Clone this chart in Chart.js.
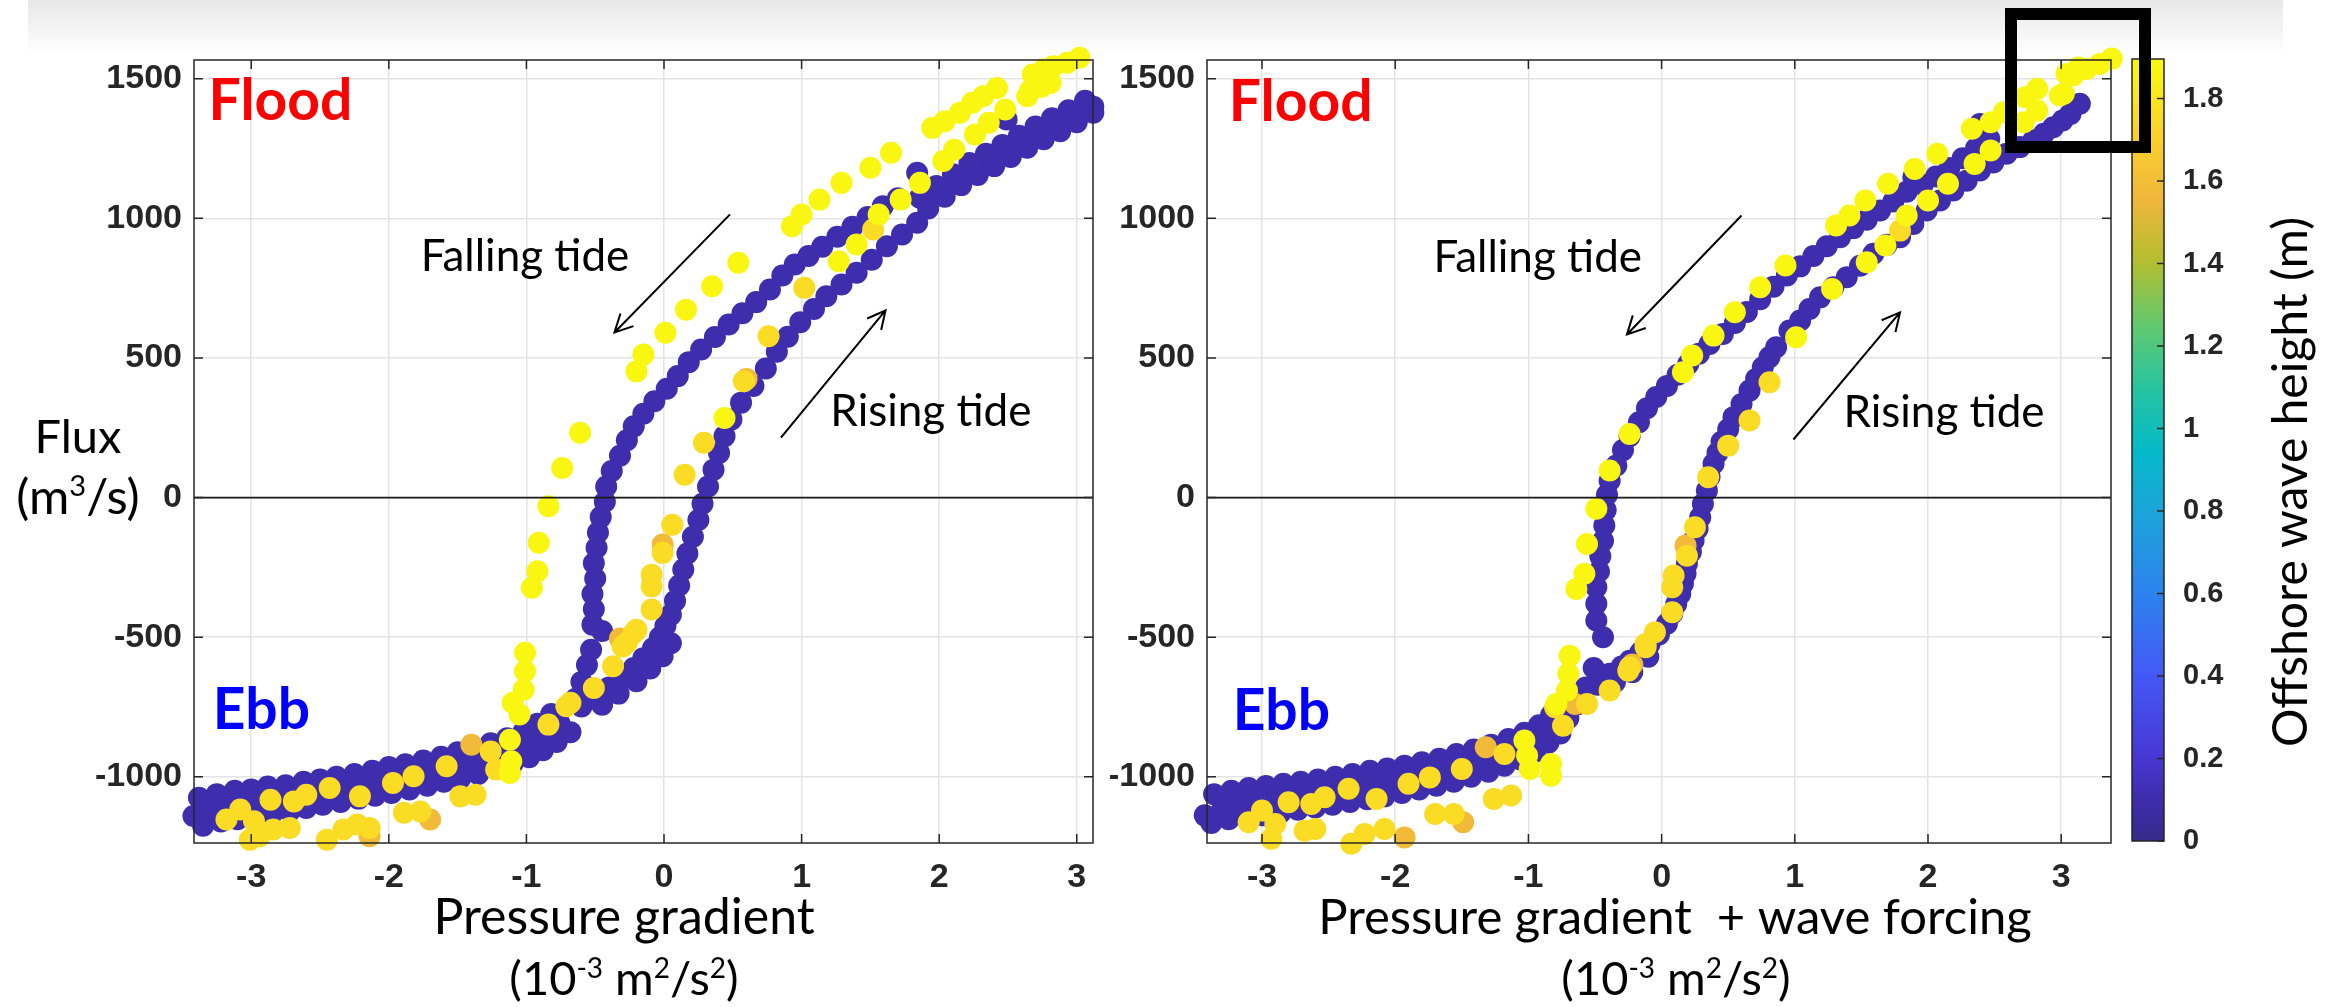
<!DOCTYPE html>
<html>
<head>
<meta charset="utf-8">
<script src="https://cdn.jsdelivr.net/npm/chart.js@4.4.1/dist/chart.umd.min.js"></script>
<style>
  html, body { margin: 0; padding: 0; background: #fff; }
  body { width: 2343px; height: 1007px; position: relative; overflow: hidden; }
  .band { position: absolute; left: 28px; top: 0; width: 2255px; height: 54px;
          background: linear-gradient(to bottom, #e8e8e8, #f4f4f4 55%, #ffffff); }
  canvas { position: absolute; top: 0; }
  #left { left: 0; }
  #right { left: 1110px; }
  #cbar { left: 2120px; }
  .box { position: absolute; left: 2005px; top: 8px; width: 122px; height: 121px;
         border: 12px solid #000; z-index: 5; }
</style>
</head>
<body>
<div class="band"></div>
<canvas id="left" width="1110" height="1007"></canvas>
<canvas id="right" width="1233" height="1007"></canvas>
<canvas id="cbar" width="223" height="1007"></canvas>
<div class="box"></div>
<script>
// offshore wave height (m) of each point group
const HS_CALM = 0.1
const HS_ORANGE = 1.58
const HS_GOLD = 1.76
const HS_YELLOW = 1.88
const HS_MAX = 1.896

const yTicks = [-1000, -500, 0, 500, 1000, 1500]
const xTicks = [-3, -2, -1, 0, 1, 2, 3]
const cbarTicks = [0, 0.2, 0.4, 0.6, 0.8, 1, 1.2, 1.4, 1.6, 1.8]

// ---- left panel: pressure gradient vs flux ----
const leftCalmBand = [
  [-3.38,-1075],[-3.25,-1062],[-3.12,-1050],[-3.0,-1045],[-2.88,-1035],[-2.75,-1030],[-2.62,-1018],
  [-2.5,-1010],[-2.38,-1000],[-2.25,-990],[-2.12,-978],[-2.0,-965],[-1.88,-955],[-1.75,-942],
  [-1.62,-928],[-1.5,-912],[-1.38,-898],[-1.26,-880],[-1.14,-862],[-1.02,-838],[-0.92,-810],[-0.82,-775],
  [-3.42,-1140],[-3.3,-1125],[-3.18,-1112],[-3.05,-1102],[-2.92,-1090],[-2.8,-1082],[-2.68,-1072],
  [-2.55,-1062],[-2.42,-1052],[-2.3,-1042],[-2.18,-1030],[-2.05,-1018],[-1.92,-1005],[-1.8,-995],
  [-1.68,-982],[-1.55,-968],[-1.42,-952],[-1.3,-936],[-1.18,-918],[-1.06,-896],[-0.95,-872],
  [-0.85,-842],[-0.76,-808],
  [-3.35,-1175],[-3.22,-1160],[-3.1,-1152],[-2.98,-1142],[-2.85,-1132],[-2.72,-1122],[-2.6,-1112],
  [-2.48,-1100],[-2.35,-1090],[-2.22,-1078],[-2.1,-1068],[-1.98,-1058],[-1.85,-1045],[-1.72,-1032],
  [-1.6,-1018],[-1.48,-1005],[-1.35,-990],[-1.22,-972],[-1.1,-952],[-0.98,-930],[-0.88,-905],
  [-0.78,-875],[-0.68,-840],
]
const leftCalmFalling = [
  [-0.64,-720],[-0.60,-660],[-0.56,-600],[-0.53,-545],[-0.45,-478],[-0.52,-455],[-0.51,-400],
  [-0.52,-345],[-0.50,-290],[-0.51,-235],[-0.49,-180],[-0.48,-125],[-0.46,-70],[-0.43,-15],
  [-0.42,40],[-0.38,95],[-0.32,150],[-0.27,205],[-0.22,255],[-0.15,300],[-0.07,345],[0.02,390],
  [0.10,435],[0.18,485],[0.27,530],[0.37,575],[0.47,620],[0.57,660],[0.67,700],[0.77,745],
  [0.86,795],[0.95,835],[1.05,865],[1.15,898],[1.26,934],[1.37,970],[1.48,1005],[1.59,1043],
  [1.70,1072],[1.84,1163],[2.49,1354],
]
const leftCalmRising = [
  [-0.60,-748],[-0.50,-715],[-0.40,-680],[-0.30,-645],[-0.22,-610],[-0.15,-575],[-0.08,-540],
  [-0.03,-500],[0.01,-460],[0.05,-420],[0.08,-370],[0.11,-315],[0.14,-258],[0.17,-200],[0.21,-140],
  [0.25,-80],[0.28,-22],[0.32,40],[0.36,100],[0.40,160],[0.44,220],[0.49,280],[0.56,340],[0.65,400],
  [0.74,462],[0.82,522],[0.90,576],[0.99,628],[1.09,675],[1.18,721],[1.29,763],[1.40,805],
  [1.51,852],[1.62,900],[1.73,942],[1.84,984],
  [-0.45,-742],[-0.33,-702],[-0.20,-658],[-0.10,-612],[-0.01,-568],[0.05,-522],
]
const leftCalmUpper = [
  [1.86,1074],[1.98,1116],[2.10,1158],[2.22,1198],[2.34,1231],[2.46,1263],[2.58,1296],[2.70,1329],
  [2.82,1358],[2.94,1387],[3.06,1421],
  [1.92,1055],[2.04,1097],[2.16,1138],[2.28,1177],[2.40,1209],[2.52,1241],[2.64,1274],[2.76,1306],
  [2.88,1335],[3.00,1366],[3.12,1400],
  [1.92,1035],[2.04,1077],[2.16,1119],[2.28,1155],[2.40,1187],[2.52,1220],[2.64,1253],[2.76,1283],
  [2.88,1312],[3.00,1344],[3.12,1378],
]
const leftYellow = [
  [-0.20,452],[-0.15,512],[0.01,590],[0.16,673],[0.35,757],[0.54,841],[0.93,972],[1.00,1014],
  [1.13,1067],[1.29,1127],[1.50,1181],[1.65,1235],[1.95,1324],[2.04,1348],[2.15,1378],[2.24,1414],
  [2.32,1437],[2.42,1467],[2.64,1437],[2.66,1458],[2.68,1515],[2.76,1533],[2.83,1545],[2.93,1557],
  [3.02,1575],[2.81,1485],[2.74,1470],
  [-0.61,232],[-0.74,106],[-0.84,-31],[-0.91,-162],[-0.92,-264],[-0.96,-323],[-1.01,-556],
  [-1.01,-622],[-1.02,-688],[-1.10,-735],[-1.05,-777],[-1.12,-867],[-1.12,-986],[-1.11,-944],
  [0.44,285],[1.27,846],[1.40,906],[1.56,1014],[1.72,1067],[1.86,1127],[2.03,1205],[2.11,1246],
  [2.26,1300],[2.36,1342],[2.48,1390],
]
const leftGold = [
  [0.76,578],[0.58,417],[0.29,196],[1.02,751],[1.52,960],
  [0.15,82],[0.06,-97],[-0.01,-198],[-0.09,-276],[-0.09,-318],[-0.09,-401],[-0.20,-473],
  [-0.27,-520],[-0.37,-604],[-0.51,-682],[-0.68,-735],[-0.71,-747],[-0.84,-813],[-0.30,-533],
  [-0.22,-485],
  [-1.26,-909],[-1.22,-974],[-1.58,-962],[-1.82,-998],[-1.97,-1022],[-2.21,-1070],[-2.43,-1040],
  [-2.60,-1064],[-2.69,-1088],[-2.86,-1082],[-3.08,-1117],[-3.18,-1153],[-2.98,-1159],[-2.94,-1213],
  [-3.01,-1225],[-2.72,-1183],[-2.84,-1189],[-2.45,-1225],[-2.33,-1189],[-2.23,-1171],[-2.14,-1183],
  [-1.89,-1129],[-1.77,-1124],[-1.48,-1070],[-1.37,-1064],
]
const leftOrange = [
  [-0.01,-168],[-0.32,-505],[-1.40,-885],[-2.14,-1213],[-1.70,-1153],[0.60,425],
]

// ---- right panel: pressure gradient + wave forcing vs flux ----
const rightCalmBand = [
  [-3.36,-1062],[-3.23,-1050],[-3.1,-1040],[-2.97,-1033],[-2.84,-1025],[-2.71,-1018],[-2.58,-1010],
  [-2.45,-1000],[-2.32,-990],[-2.19,-978],[-2.06,-970],[-1.93,-960],[-1.8,-948],[-1.67,-935],
  [-1.54,-918],[-1.41,-902],[-1.28,-885],[-1.15,-865],[-1.03,-842],[-0.92,-815],[-0.83,-780],
  [-3.43,-1138],[-3.3,-1118],[-3.17,-1105],[-3.04,-1098],[-2.9,-1088],[-2.77,-1079],[-2.64,-1070],
  [-2.51,-1060],[-2.38,-1050],[-2.25,-1040],[-2.12,-1030],[-1.99,-1018],[-1.86,-1005],[-1.73,-992],
  [-1.6,-978],[-1.47,-960],[-1.34,-942],[-1.21,-922],[-1.09,-900],[-0.97,-872],[-0.87,-840],[-0.78,-800],
  [-3.38,-1165],[-3.25,-1152],[-3.12,-1145],[-2.99,-1138],[-2.86,-1128],[-2.73,-1118],[-2.6,-1110],
  [-2.47,-1100],[-2.34,-1090],[-2.21,-1080],[-2.08,-1070],[-1.95,-1058],[-1.82,-1045],[-1.69,-1032],
  [-1.56,-1018],[-1.43,-1000],[-1.3,-982],[-1.18,-960],[-1.06,-938],[-0.95,-910],[-0.85,-878],[-0.76,-845],
]
const rightCalmFalling = [
  [-0.70,-790],[-0.63,-740],[-0.57,-680],[-0.51,-610],[-0.44,-500],[-0.49,-440],[-0.49,-380],
  [-0.49,-321],[-0.47,-265],[-0.46,-210],[-0.44,-155],[-0.43,-100],[-0.42,-45],[-0.41,10],
  [-0.39,60],[-0.34,115],[-0.29,170],[-0.24,220],[-0.17,270],[-0.11,320],[-0.04,360],[0.04,400],
  [0.12,440],[0.20,478],[0.28,515],[0.36,550],[0.46,586],[0.55,625],[0.64,665],[0.74,710],
  [0.84,755],[0.94,795],[1.04,828],[1.14,865],[1.24,900],[1.34,932],[1.44,965],[1.54,995],
  [1.64,1028],[1.74,1060],[1.84,1095],[1.89,1147],[1.96,1120],[2.06,1150],[2.16,1180],[2.26,1215],
  [2.36,1250],[2.46,1285],[2.39,1338],
]
const rightCalmRising = [
  [-0.48,-670],[-0.39,-631],[-0.30,-605],[-0.24,-584],[-0.16,-555],[-0.09,-524],[-0.02,-490],
  [0.04,-452],[0.08,-415],[0.11,-381],[0.14,-345],[0.16,-309],[0.18,-272],[0.19,-237],[0.22,-195],
  [0.24,-154],[0.27,-112],[0.29,-71],[0.31,-23],[0.34,25],[0.36,75],[0.39,121],[0.42,160],
  [0.45,200],[0.50,245],[0.54,288],[0.60,335],[0.66,383],[0.71,425],[0.76,467],[0.81,503],
  [0.86,538],[0.96,598],[1.04,634],[1.11,675],[1.19,717],[1.29,753],[1.39,789],[1.49,830],
  [1.59,873],[1.69,905],[1.79,932],[1.89,980],[1.99,1028],[2.09,1064],[2.19,1100],[2.29,1135],
  [2.39,1171],[2.49,1200],[2.59,1231],[2.69,1255],[2.79,1279],[2.87,1303],[2.94,1326],[3.01,1350],
  [3.07,1374],[3.14,1410],
  [-0.35,-660],[-0.22,-625],[-0.10,-570],
]
const rightYellow = [
  [0.93,831],[0.74,753],[0.55,664],[0.39,580],[0.23,509],[0.16,449],[-0.24,228],[-0.39,97],
  [-0.49,-40],[-0.56,-166],[-0.58,-273],[-0.64,-327],[-0.69,-566],[-0.70,-631],[-0.71,-691],
  [-0.79,-739],
  [1.31,974],[1.41,1010],[1.53,1064],[1.70,1124],[1.90,1177],[2.07,1231],[2.33,1321],[2.47,1344],
  [2.57,1380],[2.73,1434],[2.82,1464],[3.02,1446],[3.09,1512],[3.19,1535],[3.29,1553],[3.38,1572],
  [3.13,1540],
  [1.01,574],[1.28,747],[1.54,843],[1.68,903],[1.84,1010],[2.00,1064],[2.15,1124],[2.35,1195],
  [2.47,1243],[2.72,1344],[2.82,1386],[2.99,1440],[3.04,1517],
  [-0.99,-972],[-1.01,-924],[-0.83,-954],[-0.83,-996],[-1.03,-870],
]
const rightGold = [
  [0.81,413],[0.66,276],[0.50,186],[0.35,73],[0.25,-106],[0.19,-208],[0.09,-279],[0.08,-321],
  [0.08,-411],[-0.05,-482],[-0.12,-524],[-0.24,-608],[-0.39,-691],[-0.56,-739],[-0.74,-817],
  [-0.80,-751],[-0.25,-620],[-0.12,-536],[1.79,956],
  [-1.18,-918],[-1.50,-972],[-1.74,-1002],[-1.90,-1025],[-2.14,-1079],[-2.35,-1043],[-2.53,-1073],
  [-2.63,-1097],[-2.80,-1091],[-3.00,-1121],[-3.10,-1163],[-2.90,-1169],[-2.93,-1222],[-2.68,-1193],
  [-2.60,-1187],[-2.33,-1240],[-2.23,-1205],[-2.08,-1187],[-1.70,-1133],[-1.56,-1133],[-1.26,-1079],
  [-1.13,-1067],
]
const rightOrange = [
  [0.18,-172],[-1.32,-894],[-1.93,-1217],[-1.49,-1163],[-0.65,-739],[-0.22,-598],
]

// parula-like colormap (fraction of HS_MAX -> rgb)
const PARULA = [
  [0.00, [53, 42, 135]], [0.05, [62, 44, 170]], [0.11, [71, 56, 212]], [0.21, [68, 88, 246]],
  [0.32, [44, 132, 236]], [0.42, [28, 164, 218]], [0.50, [4, 186, 200]], [0.58, [40, 196, 160]],
  [0.66, [98, 201, 110]], [0.74, [178, 190, 48]], [0.82, [240, 182, 60]], [0.90, [250, 208, 44]],
  [1.00, [249, 251, 14]],
]

const AXIS_COLOR = "#262626"
const TICK_LEN = 9
const TICK_FONT = { family: "'Liberation Sans', Arial, sans-serif", size: 34, weight: "bold" }
const TEXT_FONT = "Lato, 'Open Sans', sans-serif"

const rgb = (c) => `rgb(${c[0]}, ${c[1]}, ${c[2]})`

const parula = (hs) => {
  const t = Math.min(1, Math.max(0, hs / HS_MAX))
  for (let i = 1; i < PARULA.length; i++) {
    const [t1, c1] = PARULA[i]
    const [t0, c0] = PARULA[i - 1]
    if (t <= t1) {
      const f = (t - t0) / (t1 - t0)
      return rgb(c0.map((v, k) => Math.round(v + (c1[k] - v) * f)))
    }
  }
  return rgb(PARULA[PARULA.length - 1][1])
}

// "(10^{-3} m^{2})" -> normal / superscript runs
const drawRich = (ctx, text, cx, baseline, size) => {
  const parts = text.split(/\^\{([^}]*)\}/).map((t, i) => ({ t, sup: i % 2 === 1 }))
  const fontOf = (p) => `${p.sup ? Math.round(size * 0.6) : size}px ${TEXT_FONT}`
  let w = 0
  parts.forEach((p) => { ctx.font = fontOf(p); w += ctx.measureText(p.t).width })
  let x = cx - w / 2
  ctx.textAlign = "left"
  ctx.textBaseline = "alphabetic"
  parts.forEach((p) => {
    ctx.font = fontOf(p)
    ctx.fillText(p.t, x, p.sup ? baseline - size * 0.36 : baseline)
    x += ctx.measureText(p.t).width
  })
}

const drawArrow = (ctx, x0, y0, x1, y1) => {
  const a = Math.atan2(y0 - y1, x0 - x1)
  const head = 20
  ctx.beginPath()
  ctx.moveTo(x0, y0)
  ctx.lineTo(x1, y1)
  ctx.moveTo(x1 + head * Math.cos(a + 0.47), y1 + head * Math.sin(a + 0.47))
  ctx.lineTo(x1, y1)
  ctx.lineTo(x1 + head * Math.cos(a - 0.47), y1 + head * Math.sin(a - 0.47))
  ctx.stroke()
}

const panelDecor = {
  id: "panelDecor",
  afterDatasetsDraw(chart, args, opts) {
    const { ctx, chartArea: a } = chart
    const { x, y } = chart.scales
    ctx.save()

    // zero flux line
    const y0 = y.getPixelForValue(0)
    ctx.strokeStyle = "#1a1a1a"
    ctx.lineWidth = 1.8
    ctx.beginPath()
    ctx.moveTo(a.left, y0)
    ctx.lineTo(a.right, y0)
    ctx.stroke()

    // box and inward ticks
    ctx.strokeStyle = AXIS_COLOR
    ctx.lineWidth = 1.5
    ctx.strokeRect(a.left, a.top, a.right - a.left, a.bottom - a.top)
    ctx.beginPath()
    x.ticks.forEach((t) => {
      const px = x.getPixelForValue(t.value)
      ctx.moveTo(px, a.bottom); ctx.lineTo(px, a.bottom - TICK_LEN)
      ctx.moveTo(px, a.top); ctx.lineTo(px, a.top + TICK_LEN)
    })
    y.ticks.forEach((t) => {
      const py = y.getPixelForValue(t.value)
      ctx.moveTo(a.left, py); ctx.lineTo(a.left + TICK_LEN, py)
      ctx.moveTo(a.right, py); ctx.lineTo(a.right - TICK_LEN, py)
    })
    ctx.stroke()

    // arrows (data coords)
    ctx.strokeStyle = "#000"
    ctx.lineWidth = 2
    opts.arrows.forEach(([xa, ya, xb, yb]) => {
      drawArrow(ctx, x.getPixelForValue(xa), y.getPixelForValue(ya),
        x.getPixelForValue(xb), y.getPixelForValue(yb))
    })

    // in-plot labels (data coords, baseline)
    ctx.textBaseline = "alphabetic"
    opts.notes.forEach((n) => {
      ctx.font = `${n.bold ? "bold " : ""}${n.size}px ${TEXT_FONT}`
      ctx.fillStyle = n.color
      ctx.textAlign = n.align
      ctx.fillText(n.text, x.getPixelForValue(n.x), y.getPixelForValue(n.y))
    })

    // axis titles (canvas px)
    ctx.fillStyle = "#000"
    opts.titles.forEach((t) => drawRich(ctx, t.text, t.cx, t.baseline, t.size))
    ctx.restore()
  },
}

const groupsToDatasets = (groups) =>
  groups.map((g) => ({
    data: g.points.map(([x, y]) => ({ x, y })),
    backgroundColor: parula(g.hs),
    pointRadius: 11,
    pointHoverRadius: 11,
    pointBorderWidth: 0,
    clip: false,
  }))

const makeScatter = (id, groups, xMin, xMax, yAxisWidth, rightPad, decor) =>
  new Chart(document.getElementById(id), {
    type: "scatter",
    data: { datasets: groupsToDatasets(groups) },
    options: {
      responsive: false,
      animation: false,
      events: [],
      layout: { padding: { left: 0, right: rightPad, top: 60, bottom: 0 } },
      plugins: { legend: { display: false }, tooltip: { enabled: false }, panelDecor: decor },
      scales: {
        x: {
          type: "linear",
          min: xMin,
          max: xMax,
          afterFit: (s) => { s.height = 164 },
          afterBuildTicks: (s) => { s.ticks = xTicks.map((v) => ({ value: v })) },
          grid: { color: "#e4e4e4", lineWidth: 1.5, drawTicks: false },
          border: { display: false },
          ticks: { font: TICK_FONT, color: AXIS_COLOR, padding: 14, maxRotation: 0, callback: (v) => String(v) },
        },
        y: {
          type: "linear",
          min: -1237,
          max: 1567,
          afterFit: (s) => { s.width = yAxisWidth },
          afterBuildTicks: (s) => { s.ticks = yTicks.map((v) => ({ value: v })) },
          grid: { color: "#e4e4e4", lineWidth: 1.5, drawTicks: false },
          border: { display: false },
          ticks: { font: TICK_FONT, color: AXIS_COLOR, padding: 12, callback: (v) => String(v) },
        },
      },
    },
    plugins: [panelDecor],
  })

const unitsTitle = "(10^{-3} m^{2}/s^{2})"

makeScatter("left", [
  { hs: HS_CALM, points: [...leftCalmBand, ...leftCalmFalling, ...leftCalmRising, ...leftCalmUpper] },
  { hs: HS_ORANGE, points: leftOrange },
  { hs: HS_GOLD, points: leftGold },
  { hs: HS_YELLOW, points: leftYellow },
].reverse(), -3.416, 3.118, 194, 17, {
  arrows: [[0.48, 1014, -0.36, 591], [0.85, 215, 1.61, 670]],
  notes: [
    { text: "Flood", x: -3.31, y: 1351, size: 57, bold: true, color: "#ff0000", align: "left" },
    { text: "Ebb", x: -3.28, y: -827, size: 57, bold: true, color: "#0000ff", align: "left" },
    { text: "Falling tide", x: -1.01, y: 813, size: 44, color: "#000", align: "center" },
    { text: "Rising tide", x: 1.94, y: 258, size: 44, color: "#000", align: "center" },
  ],
  titles: [
    { text: "Pressure gradient", cx: 624, baseline: 934, size: 50 },
    { text: unitsTitle, cx: 624, baseline: 995, size: 47 },
    { text: "Flux", cx: 78, baseline: 453, size: 47 },
    { text: "(m^{3}/s)", cx: 78, baseline: 514, size: 49 },
  ],
})

makeScatter("right", [
  { hs: HS_CALM, points: [...rightCalmBand, ...rightCalmFalling, ...rightCalmRising] },
  { hs: HS_ORANGE, points: rightOrange },
  { hs: HS_GOLD, points: rightGold },
  { hs: HS_YELLOW, points: rightYellow },
].reverse(), -3.413, 3.374, 97, 232, {
  arrows: [[0.60, 1010, -0.26, 584], [0.99, 208, 1.79, 663]],
  notes: [
    { text: "Flood", x: -3.25, y: 1348, size: 57, bold: true, color: "#ff0000", align: "left" },
    { text: "Ebb", x: -3.22, y: -831, size: 57, bold: true, color: "#0000ff", align: "left" },
    { text: "Falling tide", x: -0.93, y: 809, size: 44, color: "#000", align: "center" },
    { text: "Rising tide", x: 2.12, y: 254, size: 44, color: "#000", align: "center" },
  ],
  titles: [
    { text: "Pressure gradient  + wave forcing", cx: 565, baseline: 934, size: 49 },
    { text: unitsTitle, cx: 566, baseline: 995, size: 47 },
  ],
})

// ---- colorbar ----
const cbarDecor = {
  id: "cbarDecor",
  afterDatasetsDraw(chart) {
    const { ctx, chartArea: a } = chart
    const y = chart.scales.y
    ctx.save()
    ctx.strokeStyle = AXIS_COLOR
    ctx.lineWidth = 1.5
    ctx.strokeRect(a.left, a.top, a.right - a.left, a.bottom - a.top)
    ctx.beginPath()
    y.ticks.forEach((t) => {
      const py = y.getPixelForValue(t.value)
      ctx.moveTo(a.right, py)
      ctx.lineTo(a.right - 7, py)
    })
    ctx.stroke()
    ctx.translate(172, 482)
    ctx.rotate(-Math.PI / 2)
    ctx.font = `48px ${TEXT_FONT}`
    ctx.fillStyle = "#000"
    ctx.textAlign = "center"
    ctx.textBaseline = "middle"
    ctx.fillText("Offshore wave height (m)", 0, 0)
    ctx.restore()
  },
}

new Chart(document.getElementById("cbar"), {
  type: "bar",
  data: {
    labels: ["Hs"],
    datasets: [{
      data: [[0, HS_MAX]],
      barPercentage: 1,
      categoryPercentage: 1,
      borderWidth: 0,
      backgroundColor: (c) => {
        const { chart } = c
        if (!chart.chartArea) return "rgba(0,0,0,0)"
        const ys = chart.scales.y
        const g = chart.ctx.createLinearGradient(0, ys.getPixelForValue(0), 0, ys.getPixelForValue(HS_MAX))
        PARULA.forEach(([t, col]) => g.addColorStop(t, rgb(col)))
        return g
      },
    }],
  },
  options: {
    responsive: false,
    animation: false,
    events: [],
    layout: { padding: { left: 12, right: 0, top: 59, bottom: 166 } },
    plugins: { legend: { display: false }, tooltip: { enabled: false } },
    scales: {
      x: { display: false },
      y: {
        position: "right",
        min: 0,
        max: HS_MAX,
        afterFit: (s) => { s.width = 179 },
        afterBuildTicks: (s) => { s.ticks = cbarTicks.map((v) => ({ value: v })) },
        grid: { display: false },
        border: { display: false },
        ticks: {
          font: { family: TICK_FONT.family, size: 29, weight: "bold" },
          color: AXIS_COLOR,
          padding: 11,
          callback: (v) => String(Math.round(v * 10) / 10),
        },
      },
    },
  },
  plugins: [cbarDecor],
})
</script>
</body>
</html>
